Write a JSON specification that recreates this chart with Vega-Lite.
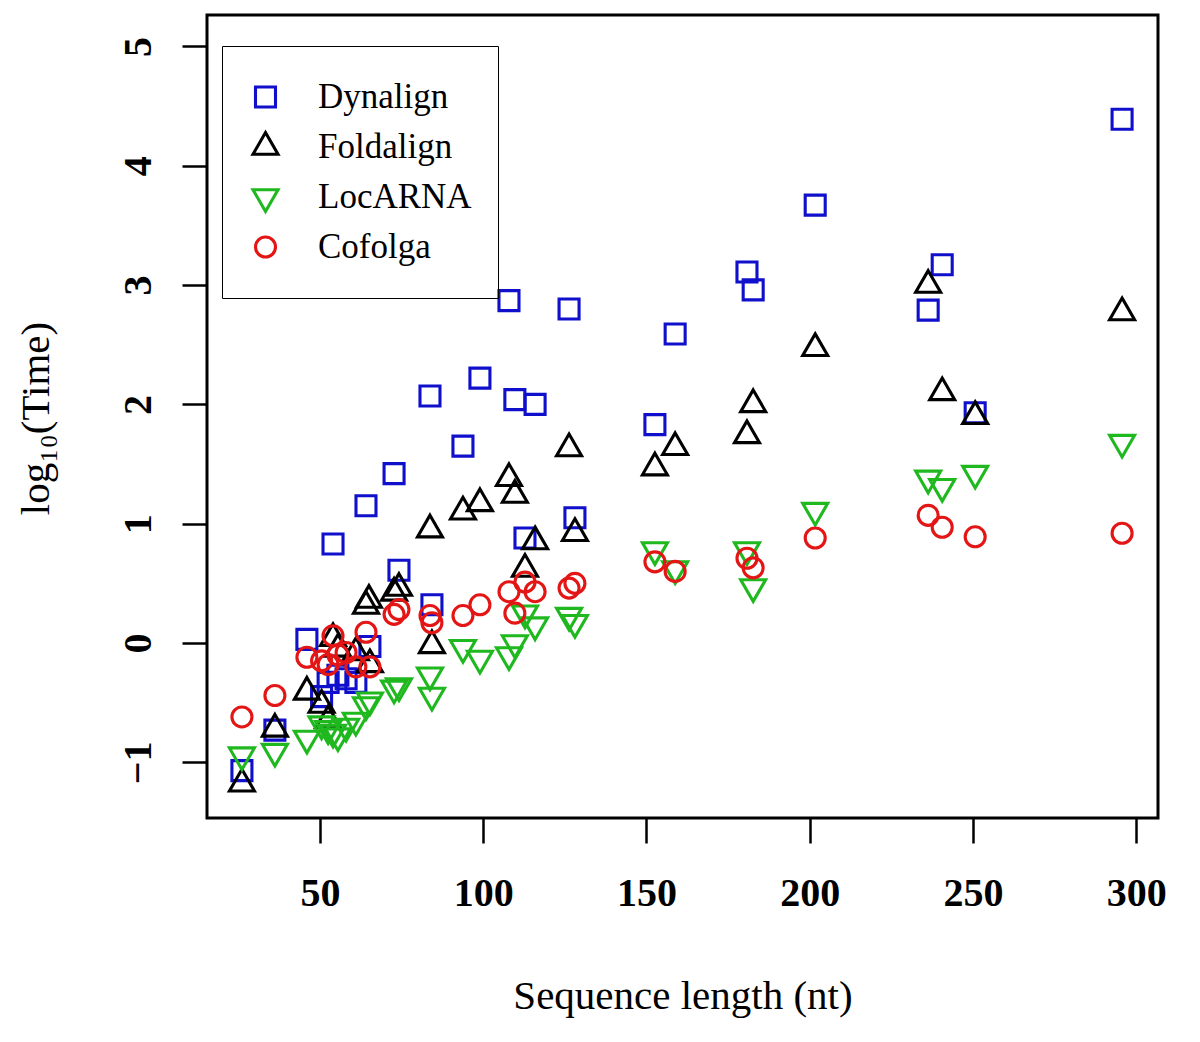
{
  "$schema": "https://vega.github.io/schema/vega-lite/v6.json",
  "width": 951,
  "height": 803,
  "autosize": {"type": "none"},
  "padding": {"left": 207, "top": 15, "right": 42, "bottom": 224},
  "background": "white",
  "config": {
    "view": {"stroke": "black", "strokeWidth": 3},
    "axis": {
      "domain": false,
      "grid": false,
      "tickColor": "black",
      "tickWidth": 2.5,
      "tickSize": 25,
      "labelFont": "Liberation Serif",
      "labelFontWeight": "bold",
      "labelFontSize": 40,
      "labelColor": "black",
      "labelFlush": false,
      "labelOverlap": false,
      "titleFont": "Liberation Serif",
      "titleFontWeight": "normal",
      "titleFontSize": 41,
      "titleColor": "black"
    }
  },
  "data": {
    "values": [
      {"method": "Dynalign", "length": 26.1, "time": -1.07},
      {"method": "Dynalign", "length": 36.2, "time": -0.73},
      {"method": "Dynalign", "length": 46.0, "time": 0.03},
      {"method": "Dynalign", "length": 50.5, "time": -0.45},
      {"method": "Dynalign", "length": 52.5, "time": -0.33},
      {"method": "Dynalign", "length": 54.0, "time": 0.83},
      {"method": "Dynalign", "length": 55.5, "time": -0.27},
      {"method": "Dynalign", "length": 58.0, "time": -0.30},
      {"method": "Dynalign", "length": 61.0, "time": -0.33},
      {"method": "Dynalign", "length": 64.1, "time": 1.15},
      {"method": "Dynalign", "length": 65.3, "time": -0.03},
      {"method": "Dynalign", "length": 72.7, "time": 1.42},
      {"method": "Dynalign", "length": 74.2, "time": 0.61},
      {"method": "Dynalign", "length": 83.7, "time": 2.07},
      {"method": "Dynalign", "length": 84.3, "time": 0.32},
      {"method": "Dynalign", "length": 93.8, "time": 1.65},
      {"method": "Dynalign", "length": 99.0, "time": 2.22},
      {"method": "Dynalign", "length": 107.9, "time": 2.87},
      {"method": "Dynalign", "length": 109.7, "time": 2.04},
      {"method": "Dynalign", "length": 112.8, "time": 0.88},
      {"method": "Dynalign", "length": 115.9, "time": 2.0},
      {"method": "Dynalign", "length": 126.3, "time": 2.80},
      {"method": "Dynalign", "length": 128.1, "time": 1.05},
      {"method": "Dynalign", "length": 152.6, "time": 1.83},
      {"method": "Dynalign", "length": 158.8, "time": 2.59},
      {"method": "Dynalign", "length": 180.8, "time": 3.11},
      {"method": "Dynalign", "length": 182.7, "time": 2.96},
      {"method": "Dynalign", "length": 201.7, "time": 3.67},
      {"method": "Dynalign", "length": 236.3, "time": 2.79},
      {"method": "Dynalign", "length": 240.6, "time": 3.17},
      {"method": "Dynalign", "length": 250.7, "time": 1.93},
      {"method": "Dynalign", "length": 295.7, "time": 4.39},

      {"method": "Foldalign", "length": 26.1, "time": -1.18},
      {"method": "Foldalign", "length": 36.2, "time": -0.72},
      {"method": "Foldalign", "length": 46.0, "time": -0.41},
      {"method": "Foldalign", "length": 50.5, "time": -0.52},
      {"method": "Foldalign", "length": 52.5, "time": -0.65},
      {"method": "Foldalign", "length": 54.0, "time": 0.04},
      {"method": "Foldalign", "length": 55.5, "time": -0.05},
      {"method": "Foldalign", "length": 61.0, "time": -0.08},
      {"method": "Foldalign", "length": 64.1, "time": 0.31},
      {"method": "Foldalign", "length": 65.0, "time": 0.36},
      {"method": "Foldalign", "length": 65.3, "time": -0.18},
      {"method": "Foldalign", "length": 72.7, "time": 0.42},
      {"method": "Foldalign", "length": 74.2, "time": 0.46},
      {"method": "Foldalign", "length": 83.7, "time": 0.95},
      {"method": "Foldalign", "length": 84.3, "time": -0.02},
      {"method": "Foldalign", "length": 93.8, "time": 1.10},
      {"method": "Foldalign", "length": 99.0, "time": 1.17},
      {"method": "Foldalign", "length": 107.9, "time": 1.38},
      {"method": "Foldalign", "length": 109.7, "time": 1.24},
      {"method": "Foldalign", "length": 112.8, "time": 0.62},
      {"method": "Foldalign", "length": 115.9, "time": 0.85},
      {"method": "Foldalign", "length": 126.3, "time": 1.63},
      {"method": "Foldalign", "length": 128.1, "time": 0.92},
      {"method": "Foldalign", "length": 152.6, "time": 1.47},
      {"method": "Foldalign", "length": 158.8, "time": 1.64},
      {"method": "Foldalign", "length": 180.8, "time": 1.74},
      {"method": "Foldalign", "length": 182.7, "time": 2.0},
      {"method": "Foldalign", "length": 201.7, "time": 2.47},
      {"method": "Foldalign", "length": 236.3, "time": 3.0},
      {"method": "Foldalign", "length": 240.6, "time": 2.10},
      {"method": "Foldalign", "length": 250.7, "time": 1.90},
      {"method": "Foldalign", "length": 295.7, "time": 2.77},

      {"method": "LocARNA", "length": 26.1, "time": -0.94},
      {"method": "LocARNA", "length": 36.2, "time": -0.91},
      {"method": "LocARNA", "length": 46.0, "time": -0.80},
      {"method": "LocARNA", "length": 50.5, "time": -0.68},
      {"method": "LocARNA", "length": 52.5, "time": -0.72},
      {"method": "LocARNA", "length": 54.0, "time": -0.75},
      {"method": "LocARNA", "length": 55.5, "time": -0.78},
      {"method": "LocARNA", "length": 58.0, "time": -0.70},
      {"method": "LocARNA", "length": 61.0, "time": -0.65},
      {"method": "LocARNA", "length": 64.1, "time": -0.52},
      {"method": "LocARNA", "length": 65.3, "time": -0.48},
      {"method": "LocARNA", "length": 72.7, "time": -0.38},
      {"method": "LocARNA", "length": 74.2, "time": -0.36},
      {"method": "LocARNA", "length": 83.7, "time": -0.27},
      {"method": "LocARNA", "length": 84.3, "time": -0.44},
      {"method": "LocARNA", "length": 93.8, "time": -0.04},
      {"method": "LocARNA", "length": 99.0, "time": -0.13},
      {"method": "LocARNA", "length": 107.9, "time": -0.10},
      {"method": "LocARNA", "length": 109.7, "time": 0.0},
      {"method": "LocARNA", "length": 112.8, "time": 0.25},
      {"method": "LocARNA", "length": 115.9, "time": 0.15},
      {"method": "LocARNA", "length": 126.3, "time": 0.23},
      {"method": "LocARNA", "length": 128.1, "time": 0.17},
      {"method": "LocARNA", "length": 152.6, "time": 0.78},
      {"method": "LocARNA", "length": 158.8, "time": 0.62},
      {"method": "LocARNA", "length": 180.8, "time": 0.78},
      {"method": "LocARNA", "length": 182.7, "time": 0.47},
      {"method": "LocARNA", "length": 201.7, "time": 1.11},
      {"method": "LocARNA", "length": 236.3, "time": 1.38},
      {"method": "LocARNA", "length": 240.6, "time": 1.31},
      {"method": "LocARNA", "length": 250.7, "time": 1.42},
      {"method": "LocARNA", "length": 295.7, "time": 1.68},

      {"method": "Cofolga", "length": 26.1, "time": -0.62},
      {"method": "Cofolga", "length": 36.2, "time": -0.44},
      {"method": "Cofolga", "length": 46.0, "time": -0.12},
      {"method": "Cofolga", "length": 50.5, "time": -0.15},
      {"method": "Cofolga", "length": 52.5, "time": -0.18},
      {"method": "Cofolga", "length": 54.0, "time": 0.06},
      {"method": "Cofolga", "length": 55.5, "time": -0.10},
      {"method": "Cofolga", "length": 58.0, "time": -0.08},
      {"method": "Cofolga", "length": 61.0, "time": -0.20},
      {"method": "Cofolga", "length": 64.1, "time": 0.09},
      {"method": "Cofolga", "length": 65.3, "time": -0.20},
      {"method": "Cofolga", "length": 72.7, "time": 0.24},
      {"method": "Cofolga", "length": 74.2, "time": 0.28},
      {"method": "Cofolga", "length": 83.7, "time": 0.23},
      {"method": "Cofolga", "length": 84.3, "time": 0.17},
      {"method": "Cofolga", "length": 93.8, "time": 0.23},
      {"method": "Cofolga", "length": 99.0, "time": 0.32},
      {"method": "Cofolga", "length": 107.9, "time": 0.43},
      {"method": "Cofolga", "length": 109.7, "time": 0.25},
      {"method": "Cofolga", "length": 112.8, "time": 0.51},
      {"method": "Cofolga", "length": 115.9, "time": 0.43},
      {"method": "Cofolga", "length": 126.3, "time": 0.46},
      {"method": "Cofolga", "length": 128.1, "time": 0.50},
      {"method": "Cofolga", "length": 152.6, "time": 0.68},
      {"method": "Cofolga", "length": 158.8, "time": 0.60},
      {"method": "Cofolga", "length": 180.8, "time": 0.71},
      {"method": "Cofolga", "length": 182.7, "time": 0.63},
      {"method": "Cofolga", "length": 201.7, "time": 0.88},
      {"method": "Cofolga", "length": 236.3, "time": 1.07},
      {"method": "Cofolga", "length": 240.6, "time": 0.97},
      {"method": "Cofolga", "length": 250.7, "time": 0.89},
      {"method": "Cofolga", "length": 295.7, "time": 0.92}
    ]
  },
  "mark": {"type": "point", "filled": false, "strokeWidth": 3.1, "size": 625, "opacity": 1},
  "encoding": {
    "x": {
      "field": "length",
      "type": "quantitative",
      "scale": {"domain": [15.4, 306.7], "nice": false, "zero": false},
      "axis": {
        "values": [50, 100, 150, 200, 250, 300],
        "labelPadding": 30,
        "title": "Sequence length (nt)",
        "titleY": 178,
        "titleBaseline": "middle"
      }
    },
    "y": {
      "field": "time",
      "type": "quantitative",
      "scale": {"domain": [-1.467, 5.264], "nice": false, "zero": false},
      "axis": {
        "values": [-1, 0, 1, 2, 3, 4, 5],
        "labelAngle": -90,
        "labelAlign": "center",
        "labelBaseline": "alphabetic",
        "labelPadding": 32,
        "title": "log₁₀(Time)",
        "titleAngle": -90,
        "titleX": -171,
        "titleY": 403,
        "titleAlign": "center",
        "titleBaseline": "middle"
      }
    },
    "color": {
      "field": "method",
      "type": "nominal",
      "scale": {
        "domain": ["Dynalign", "Foldalign", "LocARNA", "Cofolga"],
        "range": ["#1010cc", "#000000", "#1fb81f", "#e31515"]
      },
      "legend": {
        "title": null,
        "orient": "none",
        "legendX": 15,
        "legendY": 31,
        "padding": 26,
        "clipHeight": 50,
        "rowPadding": 0,
        "symbolSize": 625,
        "symbolStrokeWidth": 3.1,
        "labelFont": "Liberation Serif",
        "labelFontSize": 35,
        "labelFontWeight": "normal",
        "labelColor": "black",
        "labelOffset": 35,
        "labelLimit": 400,
        "strokeColor": "black",
        "encode": {"legend": {"update": {"strokeWidth": {"value": 2.5}}}}
      }
    },
    "shape": {
      "field": "method",
      "type": "nominal",
      "scale": {
        "domain": ["Dynalign", "Foldalign", "LocARNA", "Cofolga"],
        "range": [
          "M-0.8,-0.8L0.8,-0.8L0.8,0.8L-0.8,0.8Z",
          "M0,-1.155L1,0.577L-1,0.577Z",
          "M0,1.155L1,-0.577L-1,-0.577Z",
          "M0.8,0A0.8,0.8,0,1,1,-0.8,0A0.8,0.8,0,1,1,0.8,0Z"
        ]
      },
      "legend": {
        "title": null,
        "orient": "none",
        "legendX": 15,
        "legendY": 31
      }
    }
  }
}
